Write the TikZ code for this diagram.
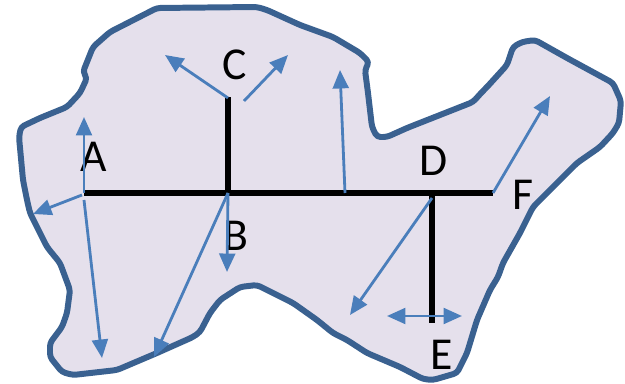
\documentclass[tikz,border=0pt]{standalone}
\usepackage{fontspec}
\setmainfont{Carlito}
\usepackage{tikz}
\usetikzlibrary{arrows.meta, positioning, calc}

\definecolor{regionfill}{HTML}{E5E0EC}
\definecolor{regionline}{HTML}{3A6190}
\definecolor{flowblue}{HTML}{4A7EBB}

\begin{document}
\begin{tikzpicture}[
  x=0.02cm, y=-0.02cm,
  region/.style={draw=regionline, fill=regionfill, line width=3.4pt,
                 line join=round},
  beam/.style={draw=black, line width=3.8pt},
  letter/.style={font=\fontsize{26}{30}\selectfont, inner sep=0pt},
  flow/.style={-{Triangle[length=10.5pt, width=9pt]}, draw=flowblue, line width=1.6pt},
  dflow/.style={{Triangle[length=10.5pt, width=9pt]}-{Triangle[length=10.5pt, width=9pt]},
                draw=flowblue, line width=1.6pt}
]
\useasboundingbox (0,0) rectangle (625,384);

%% --- Region outline ---
\draw[region, rounded corners=2pt]
  (157,8) -- (257,7) -- (267,10) -- (300,25) -- (333,37) -- (360,53)
  -- (369,62) -- (365,70) -- (368,93) -- (372,127) -- (377,137)
  -- (387,137) -- (407,128) -- (440,115) -- (473,102) -- (482,92)
  -- (487,87) -- (507,65) -- (513,47) -- (522,42) -- (535,40)
  -- (567,58) -- (613,83) -- (621,101) -- (619,123) -- (613,133)
  -- (600,147) -- (577,163) -- (560,180) -- (533,207) -- (520,233)
  -- (503,263) -- (498,277) -- (490,290) -- (477,320) -- (467,353)
  -- (457,373) -- (433,380) -- (423,379) -- (400,367) -- (367,353)
  -- (347,340) -- (333,333) -- (317,320) -- (293,303) -- (257,285)
  -- (240,287) -- (220,300) -- (210,313) -- (200,332) -- (193,337)
  -- (157,353) -- (117,370) -- (73,375) -- (62,372) -- (50,357)
  -- (50,343) -- (62,327) -- (67,313) -- (70,290) -- (60,263)
  -- (47,247) -- (30,213) -- (27,200) -- (23,180) -- (19,137)
  -- (21,127) -- (40,118) -- (67,107) -- (80,93) -- (87,78)
  -- (83,72) -- (93,47) -- (110,32) -- cycle;

%% --- Joints ---
\coordinate (A) at (84,193);
\coordinate (B) at (228,193);
\coordinate (C) at (228,97);
\coordinate (M) at (372,193);
\coordinate (D) at (432,193);
\coordinate (E) at (432,323);
\coordinate (F) at (493,193);

%% --- Beams ---
\draw[beam] (A) -- (M);
\draw[beam] (M) -- (F);
\draw[beam] (B) -- (C);
\draw[beam] (D) -- (E);

%% --- Labels ---
\node[letter] (labA) at (94,157) {A};
\node[letter] (labB) at (236,236) {B};
\node[letter] (labC) at (235,65) {C};
\node[letter] (labD) at (434,161) {D};
\node[letter] (labE) at (442,355) {E};
\node[letter] (labF) at (523,195) {F};

%% --- Arrow ends ---
\coordinate (a1) at (84,117);
\coordinate (a2s) at (82,195);
\coordinate (a2) at (33,214);
\coordinate (a3s) at (84,200);
\coordinate (a3) at (102,358);
\coordinate (c1s) at (228,98);
\coordinate (c1) at (165,55);
\coordinate (c2s) at (244,101);
\coordinate (c2) at (288,55);
\coordinate (b1) at (227,272);
\coordinate (b2) at (154,357);
\coordinate (m1s) at (345,193);
\coordinate (m1) at (340,70);
\coordinate (d1s) at (432,198);
\coordinate (d1) at (350,315);
\coordinate (e1) at (387,316);
\coordinate (e2) at (462,316);
\coordinate (f1) at (550,96);

%% --- Motion arrows ---
\draw[flow] (A) -- (a1);
\draw[flow] (a2s) -- (a2);
\draw[flow] (a3s) -- (a3);
\draw[flow] (c1s) -- (c1);
\draw[flow] (c2s) -- (c2);
\draw[flow] (B) -- (b1);
\draw[flow] (B) -- (b2);
\draw[flow] (m1s) -- (m1);
\draw[flow] (d1s) -- (d1);
\draw[dflow] (e1) -- (e2);
\draw[flow] (F) -- (f1);

\end{tikzpicture}
\end{document}
